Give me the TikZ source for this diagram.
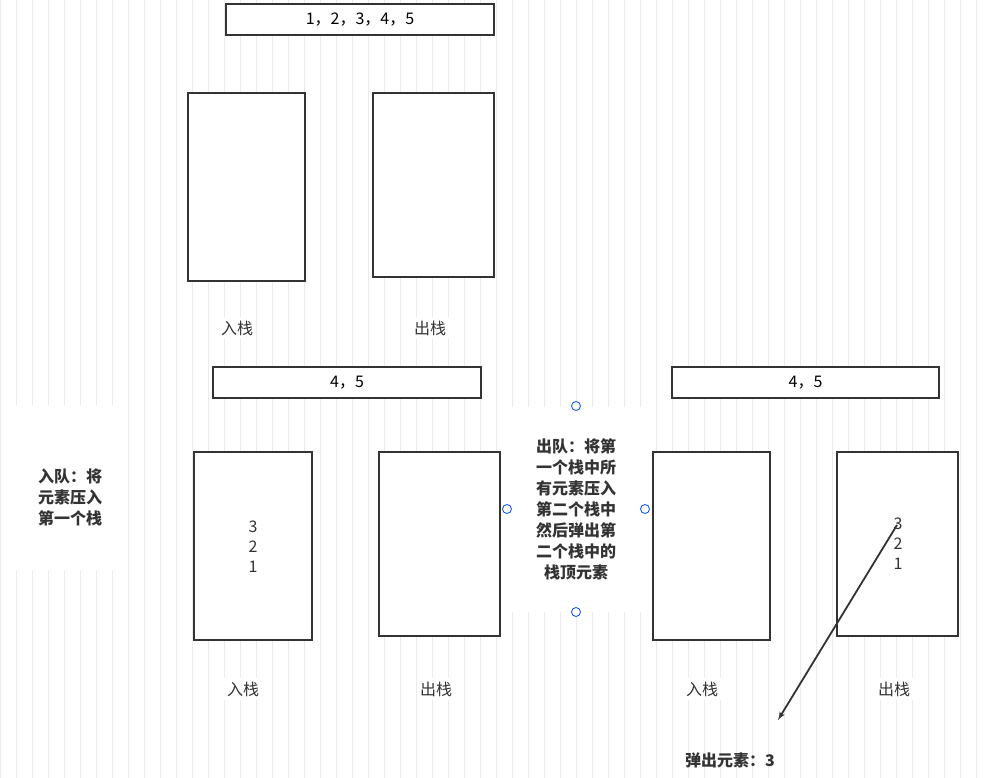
\documentclass[tikz,border=0pt]{standalone}
\usepackage{fontspec}
\setmainfont{Noto Sans CJK SC}
\usetikzlibrary{positioning,arrows}
\tikzset{
    stackbox/.style={draw=black!80, line width=1.6pt, fill=white},
    bar/.style={draw=black!80, line width=1.6pt, fill=white, minimum height=31pt, font=\fontsize{16}{18}\selectfont},
    lbl/.style={fill=white, font=\fontsize{16}{18}\selectfont, text=black!80},
    note/.style={fill=white, font=\fontsize{16}{21}\selectfont\bfseries, text=black!80, align=center},
    handle/.style={circle, draw=blue!70!cyan, fill=white, inner sep=0pt, minimum size=9pt, line width=0.8pt}
}
\begin{document}
\begin{tikzpicture}[x=1pt,y=-1pt,>=stealth]
    \useasboundingbox (0,0) rectangle (987,778);
    \fill[white] (0,0) rectangle (987,778);
    \draw[black!8, step=16] (0,0) grid (987,778);
    % top row
    \node [bar, minimum width=268pt] (q1) at (360,19.5) {1，2，3，4，5};
    \draw [stackbox] (188,93) rectangle (305,281);
    \draw [stackbox] (373,93) rectangle (494,277);
    \node [lbl] (in1) at (237,328) {入栈};
    \node [lbl] (out1) at (430,328) {出栈};
    % enqueue
    \node [bar, minimum width=268pt] (q2) at (347,382.5) {4，5};
    \node [fill=white, minimum width=116pt, minimum height=165pt] (bgl) at (70,487) {};
    \node [note] (enq) at (70,497) {入队：将\\元素压入\\第一个栈};
    \draw [stackbox] (194,452) rectangle (312,640);
    \node [align=center, font=\fontsize{16}{20}\selectfont, text=black!80] (s1) at (253,547) {3\\2\\1};
    \draw [stackbox] (379,452) rectangle (500,636);
    \node [lbl] (in2) at (243,689) {入栈};
    \node [lbl] (out2) at (436,689) {出栈};
    % dequeue
    \node [fill=white, minimum width=140pt, minimum height=205pt] (bgm) at (576,509) {};
    \node [note] (deq) at (576,509) {出队：将第\\一个栈中所\\有元素压入\\第二个栈中\\然后弹出第\\二个栈中的\\栈顶元素};
    \node [handle] (h1) at (576,406) {};
    \node [handle] (h2) at (507,509) {};
    \node [handle] (h3) at (645,509) {};
    \node [handle] (h4) at (576,612) {};
    \node [bar, minimum width=267pt] (q3) at (805.5,382.5) {4，5};
    \draw [stackbox] (653,452) rectangle (770,640);
    \draw [stackbox] (837,452) rectangle (958,636);
    \node [align=center, font=\fontsize{16}{20}\selectfont, text=black!80] (s2) at (898,544) {3\\2\\1};
    \node [lbl] (in3) at (702,689) {入栈};
    \node [lbl] (out3) at (894,689) {出栈};
    \node [note, fill=none] (pop) at (730,760) {弹出元素：3};
    \coordinate (top) at (897,525);
    \coordinate (tip) at (778,720);
    \draw [->, black!80, line width=1.8pt, >=latex'] (top) -- (tip);
\end{tikzpicture}
\end{document}
